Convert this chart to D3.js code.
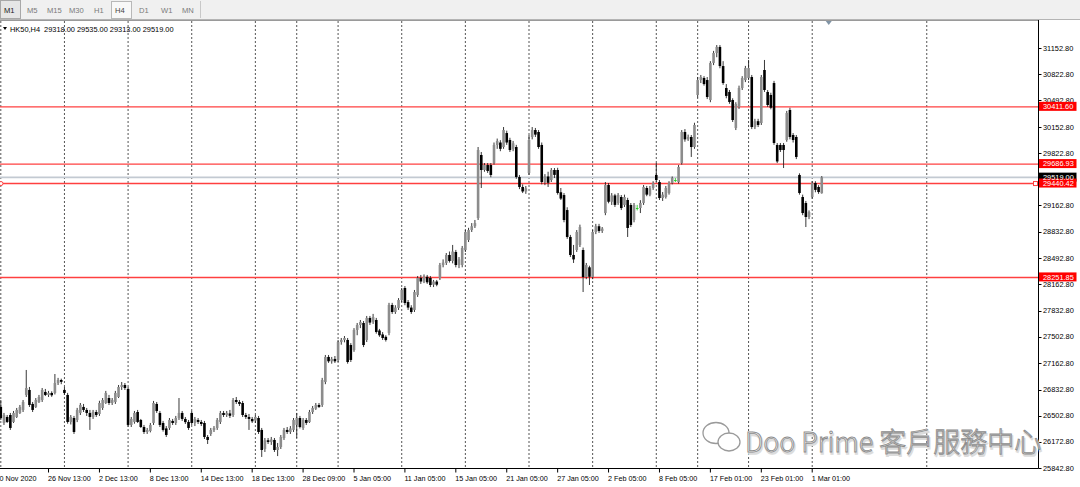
<!DOCTYPE html>
<html><head><meta charset="utf-8">
<script src="https://cdn.jsdelivr.net/npm/d3@7/dist/d3.min.js"></script>
<style>body{margin:0;background:#fff;overflow:hidden}svg{display:block}</style>
</head><body><svg id="c" width="1080" height="487"></svg>
<script>
// ---------------- data ----------------
const symbol = "HK50,H4";
const headerOHLC = ["29318.00", "29535.00", "29313.00", "29519.00"];
const timeframes = ["M1","M5","M15","M30","H1","H4","D1","W1","MN"];
const opens = [26612,26409,26485,26510,26422,26485,26536,26574,26764,26827,26650,26612,26675,26700,26802,26764,26789,26789,26915,26953,
26827,26764,26422,26472,26447,26536,26612,26574,26536,26485,26548,26523,26599,26662,26725,26662,26675,26738,26865,26890,
26840,26384,26422,26548,26447,26358,26295,26308,26409,26650,26536,26409,26340,26346,26435,26409,26472,26536,26460,26422,
26536,26410,26447,26422,26409,26232,26270,26321,26346,26422,26536,26510,26530,26510,26700,26675,26662,26510,26485,26460,
26440,26472,26321,26080,26190,26169,26194,26067,26105,26219,26321,26295,26321,26384,26472,26346,26447,26420,26548,26590,
26637,26637,26928,27245,27190,27220,27207,27434,27460,27460,27396,27333,27587,27650,27675,27460,27739,27690,27713,27580,
27530,27500,27549,27903,27814,27865,27966,28118,27940,27870,27840,28029,28245,28200,28260,28245,28160,28200,28245,28409,
28435,28536,28460,28574,28409,28409,28599,28726,28852,28900,29004,29802,29612,29675,29675,29700,29929,29960,29903,30080,
29992,29880,29903,29523,29397,29340,29574,30030,30118,30093,29929,29460,29530,29485,29612,29612,29330,29295,29105,28764,
28536,28599,28663,28599,28257,28380,28257,28827,28900,28840,29067,29422,29210,29290,29194,29270,29169,29232,29169,28979,
29131,29131,29194,29384,29300,29384,29549,29460,29257,29270,29321,29447,29485,29460,29701,30093,30000,30030,29903,30562,
30751,30777,30751,30498,30967,31093,31170,30928,30650,30600,30498,30144,30410,30650,30751,30777,30789,30156,30230,30207,
30878,30600,30562,30713,29929,29929,29929,29992,30372,30055,30030,29549,29270,29194,29017,29270,29447,29397,29318];
const highs = [26700,26536,26510,26536,26561,26599,26637,26700,27080,26865,26675,26725,26764,26852,26840,26815,26810,27029,26980,26970,
26865,26790,26510,26498,26600,26662,26650,26599,26574,26574,26574,26690,26725,26815,26764,26725,26815,26890,26928,26915,
26865,26485,26561,26574,26460,26384,26346,26409,26688,26675,26561,26435,26370,26472,26460,26498,26725,26561,26485,26447,
26561,26485,26472,26447,26435,26257,26346,26370,26472,26561,26561,26561,26574,26725,26738,26700,26688,26536,26523,26485,
26510,26498,26346,26219,26219,26232,26219,26156,26257,26346,26358,26370,26472,26536,26498,26472,26472,26574,26624,26662,
26662,26980,27270,27270,27245,27257,27460,27485,27510,27485,27420,27610,27675,27713,27700,27764,27764,27790,27739,27600,
27560,27520,27930,27930,27900,27990,28118,28143,27966,27900,28093,28270,28283,28290,28283,28270,28220,28220,28435,28480,
28561,28580,28663,28600,28510,28650,28852,28880,28940,28979,29903,29840,29700,29700,29700,29960,30010,29990,30156,30110,
30020,29980,29930,29549,29430,29410,30055,30156,30144,30118,29960,29560,29590,29637,29637,29640,29384,29320,29140,28790,
28663,28852,28920,28630,28435,28400,28852,28930,28930,28890,29460,29447,29320,29310,29320,29295,29300,29260,29194,29194,
29170,29230,29422,29410,29410,29470,29701,29485,29333,29410,29470,29530,29510,29675,30118,30130,30060,30055,30210,30790,
30815,30800,30789,30990,31120,31194,31194,30990,30700,30625,30520,30470,30680,30800,30930,31005,30815,30260,30260,30815,
31005,30625,30590,30740,29954,29954,29954,30360,30400,30080,30055,29570,29300,29220,29100,29470,29470,29420,29535];
const lows = [26447,26384,26409,26321,26409,26472,26523,26548,26738,26612,26548,26599,26662,26675,26750,26738,26740,26770,26890,26900,
26764,26400,26390,26270,26420,26510,26548,26498,26321,26460,26485,26498,26574,26650,26637,26637,26650,26725,26827,26827,
26360,26358,26400,26409,26346,26270,26270,26290,26384,26536,26358,26300,26232,26321,26384,26384,26447,26435,26396,26321,
26384,26370,26396,26370,26206,26143,26245,26295,26321,26396,26485,26485,26472,26485,26650,26624,26485,26460,26321,26409,
26409,26270,25979,26042,26143,26131,26042,25990,26080,26194,26270,26270,26295,26219,26340,26321,26384,26409,26523,26574,
26599,26612,26900,27170,27160,27169,27181,27400,27430,27160,27181,27310,27520,27610,27370,27434,27650,27663,27540,27500,
27460,27440,27520,27790,27790,27840,27940,27900,27840,27790,27814,28005,28170,28180,28170,28130,28130,28140,28219,28380,
28409,28440,28430,28380,28370,28380,28574,28700,28827,28878,28979,29384,29590,29575,29520,29680,29880,29850,29880,29930,
29840,29850,29500,29370,29320,29310,29550,30000,30030,29880,29430,29420,29397,29460,29511,29300,29232,28950,28740,28510,
28435,28574,28637,28067,28230,28156,28230,28800,28815,28815,29040,29190,29169,29144,29170,29105,29144,28764,28890,28950,
29100,29067,29170,29280,29280,29360,29460,29232,29220,29250,29300,29430,29460,29440,29680,29970,29980,29777,29880,30530,
30713,30680,30510,30470,30940,31040,30900,30690,30520,30450,30220,30118,30385,30625,30725,30751,30130,30130,30156,30182,
30600,30410,30380,29930,29700,29840,29637,29970,30000,29960,29750,29300,29040,28890,28990,29250,29330,29310,29313];
const closes = [26472,26510,26422,26346,26536,26574,26612,26675,26852,26637,26574,26700,26738,26827,26764,26789,26760,26915,26953,26930,
26789,26422,26485,26295,26574,26637,26574,26536,26485,26550,26510,26662,26700,26789,26662,26700,26789,26865,26890,26852,
26384,26460,26536,26422,26358,26295,26320,26384,26662,26560,26384,26321,26257,26447,26409,26472,26536,26460,26420,26346,
26409,26460,26422,26396,26232,26194,26321,26346,26447,26536,26510,26536,26500,26700,26675,26650,26510,26485,26460,26430,
26485,26295,26067,26190,26169,26200,26067,26105,26232,26321,26295,26340,26447,26472,26358,26447,26410,26548,26599,26637,
26612,26953,27245,27190,27220,27190,27434,27460,27485,27181,27207,27587,27650,27688,27396,27739,27680,27750,27561,27520,
27485,27460,27903,27814,27870,27966,28093,27928,27870,27814,28067,28245,28200,28260,28190,28156,28200,28160,28409,28440,
28536,28460,28580,28409,28480,28625,28827,28852,28900,28940,29865,29612,29675,29600,29549,29929,29980,29880,30118,29960,
29865,29950,29523,29397,29340,29380,29992,30118,30060,29903,29460,29530,29450,29612,29550,29321,29250,28979,28764,28536,
28480,28827,28890,28257,28409,28260,28827,28900,28840,28870,29422,29210,29290,29170,29295,29130,29270,28878,28916,29169,
29131,29194,29397,29300,29380,29447,29485,29257,29300,29384,29447,29511,29485,29650,30093,30000,30030,29903,30182,30751,
30790,30700,30536,30967,31093,31170,30928,30713,30550,30473,30245,30448,30650,30777,30903,30903,30156,30230,30182,30789,
30625,30435,30400,29954,29720,29865,29865,30334,30030,29992,29777,29321,29067,29017,29080,29447,29360,29333,29519];

const yTickValues = [31152.8,30822.8,30492.8,30152.8,29822.8,29492.8,29162.8,28832.8,28492.8,28162.8,27832.8,27502.8,27162.8,26832.8,26502.8,26172.8,25842.8];
const xTickBars = [-1,15,31,47,63,79,95,111,127,143,159,175,191,207,223,239,255];
const xTickLabels = ["20 Nov 2020","26 Nov 13:00","2 Dec 13:00","8 Dec 13:00","14 Dec 13:00","18 Dec 13:00","28 Dec 09:00","5 Jan 05:00","11 Jan 05:00","15 Jan 05:00","21 Jan 05:00","27 Jan 05:00","2 Feb 05:00","8 Feb 05:00","17 Feb 01:00","23 Feb 01:00","1 Mar 01:00"];
const weekGridBars = [0,20,40,60,80,93,106,126,146,166,186,206,219,235,255,291];
const levelLines = [30411.60, 29686.93, 29440.42, 28251.85];
const bidPrice = 29519.00;
const watermark = "Doo Prime 客戶服務中心";

// ---------------- layout ----------------
const W = 1080, H = 487;
const chart = {left:0, top:20, right:1038, bottom:468};
const FONT = "'Liberation Sans', Arial, sans-serif";
const svg = d3.select("#c");

const x = d3.scaleLinear().domain([0, 1]).range([0.8, 0.8 + 3.182]);
const y = d3.scaleLinear().domain([25842.8, 31152.8]).range([467.7, 48.3]);

// toolbar
svg.append("rect").attr("x",0).attr("y",0).attr("width",W).attr("height",19).attr("fill","#f0f0f0");
svg.append("line").attr("x1",0).attr("x2",W).attr("y1",19.5).attr("y2",19.5).attr("stroke","#b4b4b4");
const tabX = [4,27,47,69,94,115,139,161,182];
svg.append("rect").attr("x",0.5).attr("y",0.5).attr("width",20).attr("height",18).attr("fill","#e6e6e6").attr("stroke","#a8a8a8");
svg.append("rect").attr("x",111.5).attr("y",1.5).attr("width",20).attr("height",17).attr("fill","#f8f8f8").attr("stroke","#b8b8b8");
svg.append("line").attr("x1",200.5).attr("x2",200.5).attr("y1",1).attr("y2",18).attr("stroke","#c8c8c8");
svg.append("g").selectAll("text").data(timeframes).join("text")
  .attr("x",(d,i)=>tabX[i]).attr("y",12.5)
  .attr("font-family",FONT).attr("font-size",7.6)
  .attr("fill",(d,i)=> i===0 ? "#222" : (i===5 ? "#444" : "#7a7a7a"))
  .text(d=>d);

// chart background
svg.append("rect").attr("x",chart.left).attr("y",chart.top).attr("width",chart.right-chart.left).attr("height",chart.bottom-chart.top).attr("fill","#fff");
svg.append("line").attr("x1",0).attr("x2",chart.right).attr("y1",20.5).attr("y2",20.5).attr("stroke","#9a9a9a");

const plot = svg.append("g");
// vertical weekly grid
plot.selectAll("line.grid").data(weekGridBars).join("line")
  .attr("x1",d=>x(d)).attr("x2",d=>x(d)).attr("y1",21).attr("y2",chart.bottom)
  .attr("stroke","#555").attr("stroke-width",1).attr("stroke-dasharray","2,2");

// bid line
plot.append("line").attr("x1",0).attr("x2",chart.right).attr("y1",y(bidPrice)).attr("y2",y(bidPrice))
  .attr("stroke","#c3cad2").attr("stroke-width",1.6);
// red level lines
plot.selectAll("line.lvl").data(levelLines).join("line")
  .attr("x1",0).attr("x2",chart.right).attr("y1",d=>y(d)).attr("y2",d=>y(d))
  .attr("stroke","#ff4040").attr("stroke-width",1.4);

// candles
const bars = d3.range(opens.length).map(i=>({i,o:opens[i],h:highs[i],l:lows[i],c:closes[i]}));
const colorOf = d => d.c > d.o ? "#8c8c8c" : (d.c < d.o ? "#000" : "#2ad02a");
plot.selectAll("line.wick").data(bars).join("line")
  .attr("x1",d=>x(d.i)).attr("x2",d=>x(d.i)).attr("y1",d=>y(d.h)).attr("y2",d=>y(d.l))
  .attr("stroke",d=> d.c===d.o ? "#2ad02a" : "#222").attr("stroke-width",0.9);
plot.selectAll("rect.body").data(bars).join("rect")
  .attr("x",d=>x(d.i)-1.3).attr("width",2.6)
  .attr("y",d=>y(Math.max(d.o,d.c)))
  .attr("height",d=>Math.max(1,Math.abs(y(d.o)-y(d.c))))
  .attr("fill",colorOf);

// markers on 29440.42 line
plot.append("circle").attr("cx",1).attr("cy",y(29440.42)).attr("r",2).attr("fill","#fff").attr("stroke","#ff4040").attr("stroke-width",1);
plot.append("rect").attr("x",1033.5).attr("y",y(29440.42)-2).attr("width",4).attr("height",4).attr("fill","#fff").attr("stroke","#ff4040").attr("stroke-width",1);

// frame
svg.append("line").attr("x1",chart.right+0.5).attr("x2",chart.right+0.5).attr("y1",20).attr("y2",chart.bottom+0.5).attr("stroke","#000");
svg.append("line").attr("x1",0).attr("x2",chart.right+0.5).attr("y1",chart.bottom+0.5).attr("y2",chart.bottom+0.5).attr("stroke","#000");

// chart shift triangle
svg.append("path").attr("d",`M${x(258)+4},21 L${x(258)+10},21 L${x(258)+7},25 Z`).attr("fill","#8094a6");

// header
svg.append("path").attr("d","M3,27 L7,27 L5,30 Z").attr("fill","#000");
svg.append("text").attr("x",10).attr("y",31.5).attr("font-family",FONT).attr("font-size",7.4).attr("fill","#000")
  .attr("xml:space","preserve")
  .text(symbol + "  " + headerOHLC.join(" "));

// y axis (labels hidden behind the price boxes are not drawn, as in the terminal)
const yAx = svg.append("g");
yAx.selectAll("line").data(yTickValues).join("line")
  .attr("x1",chart.right+0.5).attr("x2",chart.right+3.5).attr("y1",d=>Math.round(y(d))+0.5).attr("y2",d=>Math.round(y(d))+0.5).attr("stroke","#000");
const visibleTicks = yTickValues.filter(v => Math.abs(y(v)-y(bidPrice)) > 4 && Math.abs(y(v)-y(29440.42)) > 4);
yAx.selectAll("text").data(visibleTicks).join("text")
  .attr("x",1043).attr("y",d=>y(d)+2.8).attr("font-family",FONT).attr("font-size",7.4).attr("fill","#000")
  .text(d=>d.toFixed(2));

// price label boxes
const boxes = [{v:bidPrice,fill:"#000"}].concat(levelLines.map(v=>({v,fill:"#ff0000"})));
const bg = svg.append("g");
bg.selectAll("rect").data(boxes).join("rect")
  .attr("x",1039).attr("y",d=>y(d.v)-(d.fill==="#000"?4.7:5)).attr("width",37.5).attr("height",9)
  .attr("fill",d=>d.fill);
bg.selectAll("text").data(boxes).join("text")
  .attr("x",1043).attr("y",d=>y(d.v)-(d.fill==="#000"?4.7:5)+7.3)
  .attr("font-family",FONT).attr("font-size",7.4).attr("fill","#fff").text(d=>d.v.toFixed(2));

// x axis
const xAx = svg.append("g");
xAx.selectAll("line").data(xTickBars).join("line")
  .attr("x1",d=>x(d)).attr("x2",d=>x(d)).attr("y1",chart.bottom+0.5).attr("y2",chart.bottom+4.5).attr("stroke","#000");
xAx.selectAll("text").data(xTickBars).join("text")
  .attr("x",(d,i)=>x(d)-0.5-(i===0?1.5:0)).attr("y",481).attr("font-family",FONT).attr("font-size",7.2).attr("fill","#000")
  .text((d,i)=>xTickLabels[i]);

// watermark
const wm = svg.append("g");
const wmFont = "'Noto Sans CJK TC','Noto Sans',sans-serif";
wm.append("text").attr("x",746).attr("y",453.5).attr("font-family",wmFont).attr("font-size",27).attr("font-weight",300)
  .attr("fill","none").attr("stroke","#dcdcdc").attr("stroke-width",1.6).text(watermark);
wm.append("ellipse").attr("cx",716).attr("cy",433).attr("rx",13).attr("ry",10.5).attr("fill","#fff").attr("stroke","#9a9a9a").attr("stroke-width",1.3);
wm.append("ellipse").attr("cx",729).attr("cy",442).attr("rx",11).attr("ry",9).attr("fill","#fff").attr("stroke","#9a9a9a").attr("stroke-width",1.3);
wm.append("text").attr("x",745).attr("y",452).attr("font-family",wmFont).attr("font-size",27).attr("font-weight",300)
  .attr("fill","#fff").attr("stroke","#8c8c8c").attr("stroke-width",0.9).text(watermark);
</script></body></html>
